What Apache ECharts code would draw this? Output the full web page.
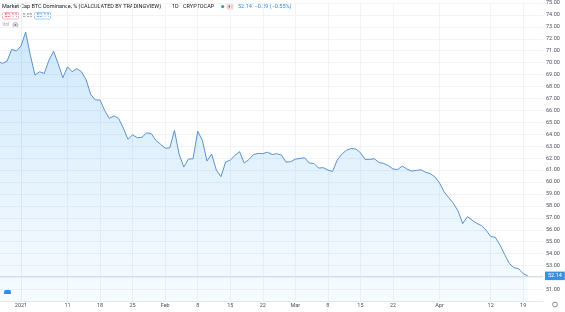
<!DOCTYPE html>
<html>
<head>
<meta charset="utf-8">
<script src="https://cdn.jsdelivr.net/npm/echarts@6/dist/echarts.min.js"></script>
<style>
html,body{margin:0;padding:0;background:#fff;}
#c{width:565px;height:312px;}
</style>
</head>
<body>
<div id="c"></div>
<script>
// ---- data ----
const startDate = '2020-12-27'; // first daily value, consecutive days follow
const dominance = [
  70.15, 69.94, 70.13, 71.12, 70.98, 71.40, 72.56, 70.63, 68.96, 69.24,
  69.10, 70.21, 70.96, 69.90, 68.74, 69.65, 69.24, 69.51, 69.24, 68.57,
  67.33, 66.88, 66.87, 65.99, 65.33, 65.54, 65.33, 64.52, 63.58, 63.96,
  63.71, 63.75, 64.12, 64.06, 63.50, 63.17, 62.84, 62.86, 64.33, 62.34,
  61.26, 61.92, 61.95, 64.25, 63.50, 61.76, 62.34, 61.01, 60.45, 61.67,
  61.84, 62.23, 62.55, 61.59, 61.88, 62.30, 62.40, 62.38, 62.50, 62.30,
  62.38, 62.25, 61.67, 61.71, 61.92, 61.98, 62.03, 61.59, 61.56, 61.17,
  61.20, 61.01, 60.88, 61.84, 62.34, 62.67, 62.81, 62.77, 62.46, 61.90,
  61.90, 61.95, 61.63, 61.56, 61.38, 61.09, 61.05, 61.34, 61.09, 60.92,
  60.97, 61.03, 60.82, 60.71, 60.43, 59.93, 59.18, 58.68, 58.22, 57.56,
  56.52, 57.10, 56.81, 56.54, 56.35, 55.98, 55.44, 55.37, 54.73, 53.94,
  53.19, 52.82, 52.74, 52.32, 52.14
];
const xTickDates = ['2021-01-01','2021-01-11','2021-01-18','2021-01-25','2021-02-01','2021-02-08','2021-02-15','2021-02-22','2021-03-01','2021-03-08','2021-03-15','2021-03-22','2021-04-01','2021-04-12','2021-04-19'];
const xTickLabels = ['2021','11','18','25','Feb','8','15','22','Mar','8','15','22','Apr','12','19'];
const lastValue = 52.14;
const titleText = 'Market Cap BTC Dominance, % (CALCULATED BY TRADINGVIEW)';
const quoteText = '52.14  −0.29 (−0.55%)';

// ---- helpers ----
const DAY = 86400000;
const ORIGIN = Date.UTC(2021, 0, 1);
function dayIndex(s) {
  const p = s.split('-').map(Number);
  return Math.round((Date.UTC(p[0], p[1] - 1, p[2]) - ORIGIN) / DAY);
}
const start = dayIndex(startDate);
const seriesData = dominance.map((v, i) => [start + i, v]);
const tickDays = xTickDates.map(dayIndex);
const labelByDay = {};
tickDays.forEach((d, i) => { labelByDay[d] = xTickLabels[i]; });

const FONT = 'Roboto';
const HF = '5.5px Roboto';
const chart = echarts.init(document.getElementById('c'), null, {renderer: 'canvas'});
chart.setOption({
  animation: false,
  backgroundColor: '#ffffff',
  textStyle: {fontFamily: FONT},
  grid: {left: 0, right: 22, top: 0.7, bottom: 10.6, containLabel: false},
  xAxis: {
    type: 'value',
    min: -4.52,
    max: 112.26,
    axisLine: {show: true, lineStyle: {color: '#e6e8ee', width: 1}},
    axisTick: {show: false, customValues: tickDays},
    axisLabel: {
      customValues: tickDays,
      formatter: v => labelByDay[Math.round(v)] || '',
      fontSize: 5.5, color: '#4c4f5a', margin: 1, fontFamily: FONT
    },
    splitLine: {show: true, lineStyle: {color: '#f1f3f8', width: 1}}
  },
  yAxis: {
    type: 'value',
    position: 'right',
    min: 50, max: 75, interval: 1,
    axisLine: {show: true, lineStyle: {color: '#eceef3'}},
    axisTick: {show: false},
    axisLabel: {
      fontSize: 5.5, color: '#4c4f5a', margin: 3, fontFamily: FONT,
      formatter: v => (v === 50 || v === 52) ? '' : v.toFixed(2)
    },
    splitLine: {show: true, lineStyle: {color: '#f1f3f8', width: 1}}
  },
  series: [{
    type: 'line',
    data: seriesData,
    showSymbol: false,
    smooth: false,
    lineStyle: {color: '#5893cf', width: 1},
    areaStyle: {
      origin: 'start',
      color: new echarts.graphic.LinearGradient(0, 0, 0, 1, [
        {offset: 0, color: 'rgba(33,150,243,0.30)'},
        {offset: 1, color: 'rgba(33,150,243,0.05)'}
      ])
    },
    markLine: {
      silent: true,
      symbol: ['none', 'none'],
      lineStyle: {color: '#cfdcea', type: 'solid', width: 1},
      label: {
        show: true, position: 'end', distance: 2,
        formatter: () => lastValue.toFixed(2),
        color: '#ffffff', backgroundColor: '#3b8fe3',
        fontSize: 5.5, padding: [1.5, 3, 1, 3], fontFamily: FONT
      },
      data: [{yAxis: lastValue}]
    }
  }],
  graphic: [
    {type: 'text', left: 2, top: 4, style: {text: titleText, font: HF, fill: '#131722'}},
    {type: 'text', left: 172, top: 4, style: {text: '1D', font: HF, fill: '#131722'}},
    {type: 'text', left: 183, top: 4, style: {text: 'CRYPTOCAP', font: HF, fill: '#131722'}},
    {type: 'circle', shape: {cx: 222.7, cy: 6.5, r: 1.6}, style: {fill: '#26a69a'}},
    {type: 'circle', shape: {cx: 230, cy: 6.5, r: 3.6}, style: {fill: '#fbd0d6'}},
    {type: 'circle', shape: {cx: 230, cy: 6.5, r: 1.2}, style: {fill: '#f23645'}},
    {type: 'text', left: 238, top: 4, style: {text: quoteText, font: HF, fill: '#2f8de4'}},
    {type: 'rect', shape: {x: 2.5, y: 12.5, width: 16, height: 6.5, r: 1}, style: {fill: '#fff', stroke: '#f5a3ac', lineWidth: 0.8}},
    {type: 'text', left: 4.5, top: 13, style: {text: '52.14', font: '5px Roboto', fill: '#f23645'}},
    {type: 'text', left: 22.5, top: 13, style: {text: '0.00', font: '5px Roboto', fill: '#787b86'}},
    {type: 'rect', shape: {x: 34.5, y: 12.5, width: 16, height: 6.5, r: 1}, style: {fill: '#fff', stroke: '#8fc3f0', lineWidth: 0.8}},
    {type: 'text', left: 36.5, top: 13, style: {text: '52.14', font: '5px Roboto', fill: '#2f8de4'}},
    {type: 'text', left: 2.5, top: 22.5, style: {text: 'Vol', font: '4.5px Roboto', fill: '#9598a1'}},
    {type: 'circle', shape: {cx: 15.5, cy: 25, r: 2.6}, style: {fill: '#e4e6ec', stroke: '#9598a1', lineWidth: 0.6}},
    {type: 'circle', shape: {cx: 15.5, cy: 25, r: 0.9}, style: {fill: '#787b86'}},
    {type: 'circle', shape: {cx: 6, cy: 292, r: 2}, style: {fill: '#2f8de4'}},
    {type: 'circle', shape: {cx: 8.5, cy: 291, r: 2.3}, style: {fill: '#2f8de4'}},
    {type: 'rect', shape: {x: 4, y: 292, width: 7, height: 2}, style: {fill: '#2f8de4'}},
    {type: 'circle', shape: {cx: 555, cy: 304.5, r: 2.4}, style: {fill: 'none', stroke: '#6a6d78', lineWidth: 0.8}}
  ]
});
</script>
</body>
</html>
